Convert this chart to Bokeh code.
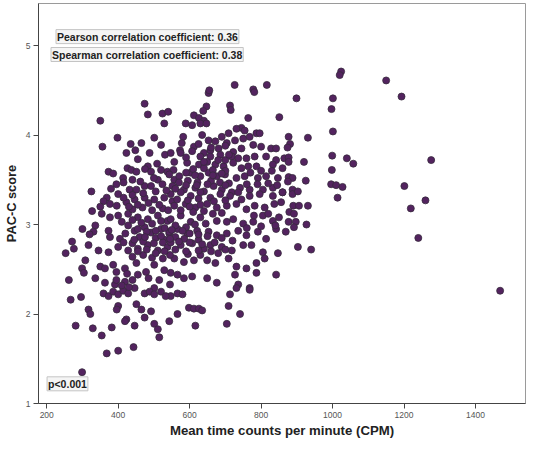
from bokeh.plotting import figure
from bokeh.models import Range1d, FixedTicker, Label, ColumnDataSource
from bokeh.embed import file_html
from bokeh.resources import INLINE

# ---- data ----
x_ticks = [200, 400, 600, 800, 1000, 1200, 1400]
y_ticks = [1, 2, 3, 4, 5]

cpm_top = [474, 483, 524, 540, 529, 350, 398, 356, 435, 465, 501, 520, 423, 448, 488, 531, 455, 483, 475, 509,
           426, 437, 451, 373, 386, 492, 520, 538, 555, 414, 395, 325, 368, 400, 432, 451, 474, 492, 511, 524, 557]
pac_top = [4.35, 4.23, 4.24, 4.26, 4.13, 4.16, 3.97, 3.87, 3.90, 3.91, 3.97, 3.89, 3.80, 3.83, 3.80, 3.78, 3.73, 3.65, 3.62, 3.68,
           3.63, 3.61, 3.59, 3.59, 3.57, 3.59, 3.61, 3.59, 3.61, 3.52, 3.45, 3.37, 3.30, 3.34, 3.39, 3.39, 3.43, 3.43, 3.50, 3.45, 3.50]

cpm_mid = [653, 655, 713, 715, 647, 638, 726, 778, 781, 816, 612, 626, 640, 589, 607, 630, 647, 764, 851, 745, 754, 731,
           582, 578, 573, 635, 653, 672, 690, 709, 727, 750, 768, 787, 796,
           612, 658, 681, 704, 722, 745, 778, 800, 828, 842,
           547, 575, 607, 640, 658, 686, 718, 736, 759, 782, 814, 842, 865,
           557, 593, 626, 649, 672, 695, 722, 745, 764, 787, 833, 860,
           543, 571, 603, 630, 653, 676, 699, 731, 754, 791, 814, 847,
           552, 584, 616, 640, 667, 690, 718, 741, 768, 805, 833, 860, 888]
pac_mid = [4.47, 4.50, 4.33, 4.28, 4.32, 4.27, 4.56, 4.51, 4.48, 4.56, 4.22, 4.19, 4.16, 4.13, 4.11, 4.13, 4.13, 4.19, 4.20, 4.08, 4.05, 4.07,
           3.98, 3.91, 3.83, 4.00, 3.94, 3.93, 3.98, 4.02, 3.94, 3.96, 3.98, 4.02, 4.02,
           3.87, 3.83, 3.85, 3.91, 3.81, 3.85, 3.89, 3.87, 3.85, 3.85,
           3.80, 3.80, 3.82, 3.80, 3.76, 3.78, 3.76, 3.74, 3.74, 3.76, 3.76, 3.72, 3.74,
           3.70, 3.69, 3.67, 3.70, 3.67, 3.65, 3.69, 3.63, 3.65, 3.65, 3.67, 3.63,
           3.56, 3.54, 3.58, 3.54, 3.58, 3.54, 3.56, 3.52, 3.54, 3.52, 3.54, 3.52,
           3.43, 3.39, 3.41, 3.37, 3.43, 3.39, 3.36, 3.41, 3.39, 3.39, 3.41, 3.36, 3.39]

cpm_low = [359, 377, 396, 423, 446, 474, 501, 529, 552,
           327, 354, 377, 400, 428, 455, 483, 511, 538,
           336, 331, 373, 377, 405, 428, 446, 474, 492, 520, 543,
           271, 276, 253,
           317, 345, 373, 400, 428, 455, 483, 511, 538,
           308, 350, 363, 386, 419, 451, 478, 501, 529,
           299, 304, 262,
           336, 363, 391, 419, 446, 501]
pac_low = [3.26, 3.23, 3.21, 3.25, 3.28, 3.30, 3.28, 3.30, 3.26,
           3.15, 3.12, 3.08, 3.10, 3.12, 3.08, 3.06, 3.10, 3.04,
           2.99, 2.92, 2.93, 2.86, 2.84, 2.99, 2.93, 2.97, 2.91, 2.95, 2.90,
           2.81, 2.73, 2.68,
           2.77, 2.71, 2.69, 2.75, 2.71, 2.73, 2.77, 2.71, 2.75,
           2.60, 2.53, 2.51, 2.55, 2.51, 2.57, 2.47, 2.55, 2.49,
           2.51, 2.46, 2.38,
           2.40, 2.35, 2.33, 2.36, 2.29, 2.29]

cpm_core = [547, 575, 603, 630, 658, 686, 713, 736, 768, 796, 833, 860, 888,
            557, 589, 616, 649, 676, 704, 731, 759, 782, 810, 837, 856,
            547, 575, 603, 630, 676, 704, 722, 750, 778, 805, 833,
            543, 566, 593, 621, 653, 676, 704, 736, 759, 791, 814, 842, 869,
            547, 575, 607, 640, 658, 690, 718, 750, 773, 805, 847,
            557, 584, 612, 649, 672, 709, 731, 759, 787, 810, 842,
            547, 566, 584, 607, 649, 676, 727, 736, 768, 787]
pac_core = [3.34, 3.36, 3.32, 3.36, 3.30, 3.34, 3.32, 3.36, 3.32, 3.34, 3.32, 3.36, 3.34,
            3.21, 3.23, 3.19, 3.23, 3.19, 3.21, 3.23, 3.17, 3.21, 3.19, 3.23, 3.25,
            3.06, 3.10, 3.03, 3.08, 3.04, 3.03, 3.06, 3.01, 3.03, 3.10, 3.04,
            2.92, 2.95, 2.90, 2.93, 2.92, 2.88, 2.90, 2.93, 2.88, 2.92, 2.84, 2.95, 2.92,
            2.80, 2.77, 2.79, 2.73, 2.77, 2.75, 2.71, 2.77, 2.77, 2.69, 2.68,
            2.62, 2.58, 2.60, 2.60, 2.57, 2.62, 2.53, 2.51, 2.57, 2.62, 2.44,
            2.46, 2.44, 2.40, 2.42, 2.40, 2.35, 2.44, 2.33, 2.29, 2.46]

cpm_bottom = [547, 566, 580, 543, 566, 598, 612, 626, 635, 616, 713, 709, 741, 704, 768, 731,
              267, 296, 317, 322, 281, 329, 354, 382, 368, 400, 443, 299,
              359, 373, 386, 400, 414, 428, 474, 488, 501, 520, 533,
              451, 465, 492, 400, 396, 423, 419, 446, 474, 501, 511, 515]
pac_bottom = [2.20, 2.23, 2.22, 1.92, 2.00, 2.07, 2.06, 2.06, 2.04, 1.87, 2.22, 2.09, 2.00, 1.89, 2.27, 2.29,
              2.16, 2.19, 2.05, 2.00, 1.87, 1.84, 1.76, 1.85, 1.56, 1.59, 1.63, 1.35,
              2.23, 2.20, 2.25, 2.22, 2.26, 2.23, 2.23, 2.25, 2.22, 2.25, 2.20,
              2.11, 2.05, 2.03, 2.09, 2.05, 1.94, 1.92, 1.87, 1.96, 1.89, 1.83, 1.74]

cpm_right = [1024, 1020, 1150, 1193, 899, 1001, 997, 1001, 931, 877, 881, 874, 1276, 999, 1040, 1058, 877, 877, 920,
             998, 877, 888, 875, 925, 996, 1010, 1028, 903, 1014, 1201, 1260, 1219, 1240, 1469,
             890, 906, 931, 879, 892, 877, 897, 892, 927, 903, 940]
pac_right = [4.71, 4.67, 4.61, 4.43, 4.41, 4.41, 4.29, 4.04, 3.97, 3.98, 3.90, 3.86, 3.72, 3.77, 3.74, 3.68, 3.75, 3.70, 3.70,
             3.61, 3.53, 3.52, 3.48, 3.49, 3.45, 3.44, 3.42, 3.37, 3.30, 3.43, 3.27, 3.18, 2.85, 2.26,
             3.21, 3.21, 3.21, 3.14, 3.12, 3.03, 3.03, 2.97, 3.00, 2.75, 2.72]

cpm_fill = [415, 440, 462, 500, 570, 595, 622, 660, 685, 710,
            565, 595, 625, 668, 700, 745,
            440, 468, 495, 525, 575, 610, 640, 665, 690,
            410, 440, 465, 495, 520, 560, 590, 615, 645,
            420, 460, 505, 530, 560, 585, 625,
            415, 440, 470, 500, 525,
            440, 470, 495, 525, 545, 595, 630, 680,
            610, 640, 665, 700, 590, 630, 700,
            380, 350, 300, 320]
pac_fill = [3.47, 3.50, 3.48, 3.52, 3.47, 3.49, 3.47, 3.49, 3.47, 3.46,
            3.28, 3.27, 3.29, 3.26, 3.27, 3.28,
            3.17, 3.19, 3.16, 3.18, 3.16, 3.14, 3.15, 3.12, 3.13,
            3.03, 3.05, 3.02, 3.01, 3.04, 2.99, 2.97, 3.00, 3.01,
            2.90, 2.86, 2.85, 2.83, 2.86, 2.84, 2.83,
            2.80, 2.79, 2.81, 2.79, 2.80,
            2.64, 2.66, 2.63, 2.62, 2.66, 2.67, 2.66, 2.68,
            3.62, 3.63, 3.61, 3.60, 3.75, 3.76, 3.72,
            3.40, 3.20, 2.95, 2.89]

cpm_dense = [430, 410, 395, 440, 425, 455, 485, 515, 545, 395,
             470, 440, 415, 505, 535, 560, 590, 620, 650, 700,
             430, 455, 485, 515, 540, 600, 630,
             455, 480, 505, 530, 550, 580, 600, 625, 650, 690, 720,
             445, 475, 520, 545, 570, 600, 635, 670,
             455, 480, 505, 530, 560, 590, 625, 660, 700,
             590, 615, 665, 690, 640, 680, 710, 660, 700, 625,
             760, 790, 820, 845, 770, 800, 830, 780, 820, 850, 760, 800, 840]
pac_dense = [2.30, 2.32, 2.38, 2.38, 2.45, 2.44, 2.40, 2.38, 2.33, 2.47,
             3.35, 3.33, 3.30, 3.37, 3.38, 3.40, 3.44, 3.44, 3.45, 3.44,
             3.20, 3.22, 3.24, 3.22, 3.16, 3.20, 3.22,
             2.95, 2.92, 2.93, 2.96, 2.94, 2.93, 2.90, 2.89, 2.87, 2.85, 2.82,
             2.83, 2.86, 2.87, 2.84, 2.81, 2.80, 2.78, 2.80,
             2.70, 2.72, 2.68, 2.70, 2.72, 2.70, 2.71, 2.70, 2.72,
             3.58, 3.55, 3.55, 3.57, 3.70, 3.72, 3.78, 3.86, 3.88, 3.90,
             3.45, 3.45, 3.46, 3.44, 3.58, 3.60, 3.60, 3.10, 3.12, 3.08, 2.96, 2.98, 2.99]

cpm = cpm_top + cpm_mid + cpm_low + cpm_core + cpm_bottom + cpm_right + cpm_fill + cpm_dense
pac_c = pac_top + pac_mid + pac_low + pac_core + pac_bottom + pac_right + pac_fill + pac_dense

source = ColumnDataSource(data=dict(x=cpm, y=pac_c))

p = figure(width=527, height=440, x_range=Range1d(177, 1540), y_range=Range1d(1, 5.47),
           output_backend="svg", toolbar_location=None,
           min_border_left=31, min_border_right=2, min_border_top=3, min_border_bottom=10)

p.scatter("x", "y", source=source, size=7, fill_color="#53235f", line_color="#362a3c", line_width=0.8)

p.xgrid.visible = False
p.ygrid.visible = False
p.outline_line_color = "#9a9a9a"
p.xaxis.ticker = FixedTicker(ticks=x_ticks)
p.yaxis.ticker = FixedTicker(ticks=y_ticks)
p.axis.minor_tick_line_color = None
p.axis.major_tick_out = 5
p.axis.major_tick_in = 0
p.axis.axis_line_color = "#444444"
p.axis.major_tick_line_color = "#444444"
p.axis.major_label_text_font = "Liberation Sans"
p.axis.major_label_text_font_size = "8.5px"
p.axis.major_label_text_color = "#555555"
p.yaxis.major_label_standoff = 3
p.xaxis.major_label_standoff = 3
p.xaxis.major_label_text_line_height = 1.0
p.xaxis.axis_label = "Mean time counts per minute (CPM)"
p.yaxis.axis_label = "PAC-C score"
p.axis.axis_label_text_font = "Liberation Sans"
p.xaxis.axis_label_text_font_size = "13.2px"
p.yaxis.axis_label_text_font_size = "12.8px"
p.axis.axis_label_text_font_style = "bold"
p.axis.axis_label_text_color = "#222222"
p.xaxis.axis_label_text_line_height = 1.0
p.xaxis.axis_label_standoff = 2
p.yaxis.axis_label_standoff = 4

def box_label(x, y, text):
    return Label(x=x, y=y, text=text, text_font="Liberation Sans", text_font_size="10.5px",
                 text_font_style="bold", text_color="#222222", text_baseline="middle", text_align="left",
                 background_fill_color="#f5f5f5", border_line_color="#c4c4c4", border_line_width=1, padding=1)

p.add_layout(box_label(226, 5.10, "Pearson correlation coefficient: 0.36"))
p.add_layout(box_label(212, 4.90, "Spearman correlation coefficient: 0.38"))
p.add_layout(box_label(201, 1.22, "p<0.001"))

open("out.html", "w").write(file_html(p, INLINE))
